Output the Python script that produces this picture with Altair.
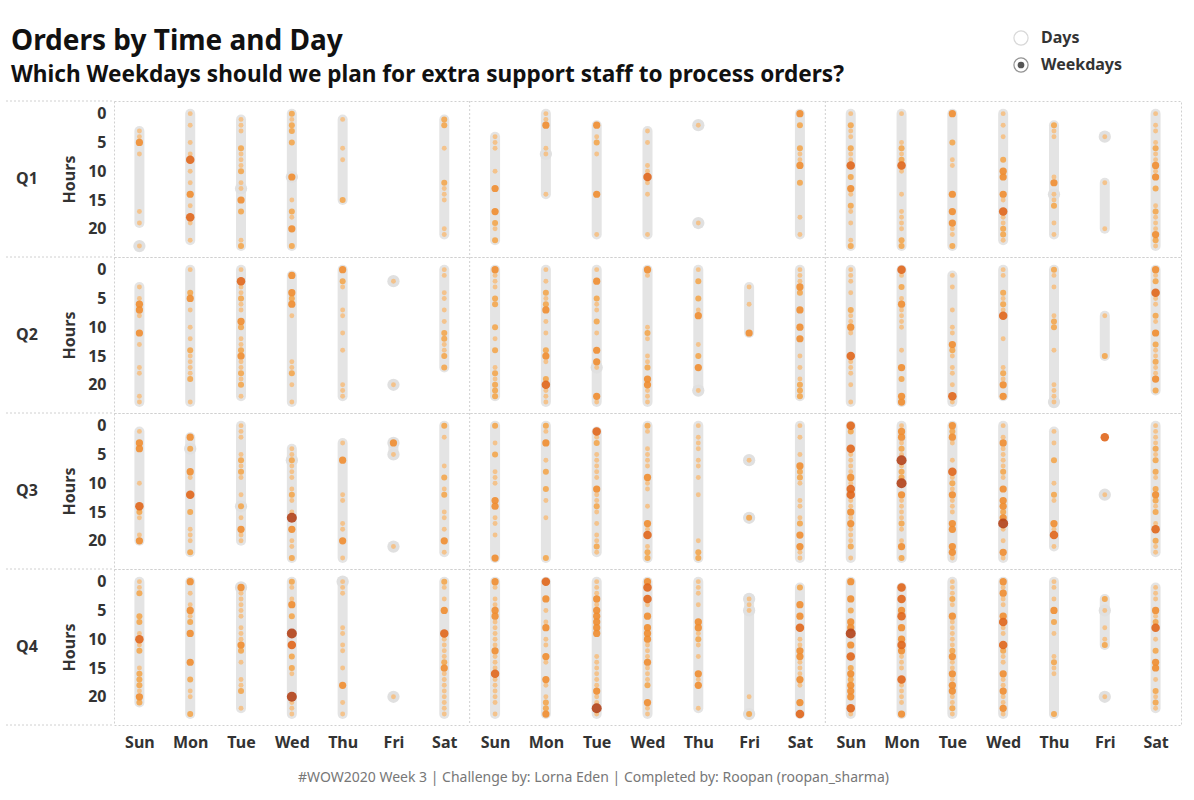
import json

import altair as alt
import pandas as pd

FONT = "Noto Sans"

DAYS = ["Sun", "Mon", "Tue", "Wed", "Thu", "Fri", "Sat"]
QUARTERS = ["Q1", "Q2", "Q3", "Q4"]
YEARS = ["2017", "2018", "2019"]

TITLE = "Orders by Time and Day"
SUBTITLE = "Which Weekdays should we plan for extra support staff to process orders?"
FOOTER = "#WOW2020 Week 3 | Challenge by: Lorna Eden | Completed by: Roopan (roopan_sharma)"
TOGGLE = ["Days", "Weekdays"]

# One string per weekday (Sun..Sat).  Tokens: "hour" or "hour:level"
# (order-count level 1..5); a trailing "g" puts a grey ring behind the dot;
# "=a-b" sets the grey hour span explicitly, a lone "=" means no span,
# otherwise the span runs from the first to the last hour with orders.
Q1_2017 = [
    "=3-19 3 4 5:3 7 17 19 23g",
    "0 2 5 7 8:4 10 12 14:3 16 18:4 19 22",
    "1 2 3 6:2 7 8 9 10:2 12 13g 15:3 17:2 22 23:2",
    "0:2 1 2:2 3:2 5:2 11:3g 15 17:2 18 20:3 23:2",
    "1 6 8 15:2",
    "",
    "1:2 2:2 6 12:2 13 14 15 20 21",
]
Q1_2018 = [
    "4 5 6 10 13:3 17:3 19:2 20 22:2",
    "0 1 2:3 6 7g 14",
    "2:3 4 5:2 7 14:3 21",
    "3 5 9 10 11:4 12 14 21",
    "= 2g 19g",
    "",
    "0:3 2:2 6:2 7 8 9:3 12:2 18 21",
]
Q1_2019 = [
    "0 2:2 3 4 6:2 7 8 9:4 11:2 13:3 14 16:2 17 19 22 23:2",
    "0 5 6:2 7 8:2 9:4 10 14 17 18 19 20 22:2 23:2",
    "0:3 5:2 8 9 14:3 17:3 19:3 20 21 23:2",
    "0 2 4 8:2 10:3 11:3 14:3 15 17:4 18 19 20:2 21:2 22",
    "2:2 3 4 11 12:3 14g 15 16:2 19 21",
    "=12-20 4g 12 20",
    "0 2 3 5 6:2 7 8 9:3 10 11:3 13:2 16 17:2 18 19 20 21:3 22:2 23",
]
Q2_2017 = [
    "3 5 6:3 7:3 8 11:3 13 17 18 22 23",
    "0 4:2 5:3 7 10 12 14:2 15 16 17 18 19:2 23",
    "0 2:4 3 4 5:2 6 7 9:3 10:2 12 13 14:2 15:3 16 17 18:2 19 20:2 22",
    "1:3 4:3 5:2 6:3 8 16 17 18:2 20 23",
    "0:3 2:2 3 7 8 11 14 20 21 22",
    "= 2g 20g",
    "0 1 4 5 7 9 11:2 12:2 13 14 15:2 17:2",
]
Q2_2018 = [
    "0:3 1 2 3 5:2 6:2 10:2 12 14:2 17 18:2 19 20:2 21:2 22:2",
    "0 2 4:2 5 6:2 7:3 9 11 14:2 15:3 16 19:2 20:4 21 22 23",
    "0 2:3 5:2 6 7 9:2 11 14:3 16:3 17g 22:3 23",
    "0:3 1 10 11:2 12 15 16 17:2 19:3 20:3 21 22 23",
    "0 2:2 5:2 7 8:3 13 15:2 17:3 21g",
    "3 6 11:3",
    "0 1 2 3:3 4:2 7:3 10:3 12:3 15 17 19 20:2 21:2 22:2",
]
Q2_2019 = [
    "0 1 2 4 7:2 8 9 10:3 11 15:4 16 17 18 20 23",
    "0:4 1 3:2 5 6:3 7 8 9 10 14 17:3 19:2 22:3 23:3",
    "1 3 7 10 11 13:3 14:2 15 17 18 20 22:4 23",
    "0 1 4:2 5 6:2 7 8:4 12 17 18:2 19 20:3 22:3",
    "0:2 1 3 8 9:2 10:2 14 20 21 22 23g",
    "8 15:2",
    "0:3 1 2:2 4:4 5 6 8:2 9 11:3 13:2 14 15 16:2 17 18 19:3 21:2",
]
Q3_2017 = [
    "1 3:3 4:3 10 14:4 15:2 16 19 20:3",
    "2:3 4:2g 8:3 9 12:4 15:2 18 19 20 22:2",
    "0 1 2 5 6:2 7 8:2 9 12 14:2g 16 18:3 19 20",
    "4 5 6:2g 7 8 9 11 12:2 13 15 16:5 18:3 20 21 23:2",
    "3 6:3 12 13 17 18 20:3 23",
    "=3-5 3:3g 5g 21g",
    "0:2 2 7 9:2 11 12:2 15 16 18 20:3 22",
]
Q3_2018 = [
    "0:2 3 5:2 8 9 10 13:3 14:3 16 17 19 23:3",
    "0:2 1 3:3 6 8:2 11:2 13 16 23:2",
    "1:4 2 3:2 5 6 7 8 9 11:3 12 13 14:2 15 17 19 20 21:2 22",
    "0:2 1 4 5 6 7 9:3 10 11 14 17:3 18 19:4 21 22:2 23:2",
    "0 2 3 4 6 7 9 12 20 22:2 23:2",
    "= 6g 16:2g",
    "0 2 5 7:3 8:2 9:2 10 13 14 16 17:2 19:3 21:3 22 23",
]
Q3_2019 = [
    "0:4 1:2 4:4 5 6 7 8 9:3 10 11:4 12:4 13 14 15:3 16 17:3 18 19 20 21:2 23",
    "0 1:3 2:3 3 4:2 5 6:5 7 8:2 9:2 10:5 12:3 13 14 15 16 17:2 18 20 21:3 23:2",
    "0:3 1:2 2:3 3 6 8:4 9 10:2 11 12:3 13 14 15 17:3 18:3 21:3 22:3 23",
    "0 2 3:3 4 5 6 7 8:2 9 11:3 13:3 14:3 15:2 16:3 17:5 18 20 22:3 23",
    "1 3 6:2 10 12:2 13 17:3 18 19:4 21",
    "= 2:4 12g",
    "0 1 2 3 4:2 5 6:2 8:2 9 11:2 12:3 13:2 14 15:2 17 18:4 20:2 21 22",
]
Q4_2017 = [
    "0 1 2:2 6:2 7:2 9 10:4 11 12:2 15 16:2 17:2 18:2 19 20:3 21:2",
    "0:3 2 4 5:3 6 7:2 9:3 14:3 17:2 19 20 23:2",
    "1:3g 2 3 4 5 6 8 9 10 11:3 12:2 14 17 18 19:2 22",
    "0:2 1 3 4:3 6:2 9:5 11:4 13:2 15:2 16 20:5 21 22 23",
    "0g 1 2 8 9 11 12 15 18:3 21 23",
    "= 20g",
    "0:2 1 3 5:3 9:4 10 11 12 13 14:2 15:3 16 17 18 19 20 21 22 23",
]
Q4_2018 = [
    "0:3 1 3 4 5:3 6:3 7 8 9 10 11 12:3 13 14 15 16:4 17 18 19 20 21 23",
    "0:4 3:3 5 7 8:3 10 11 13:3 14 17:3 18 20 21:2 22:2 23:3",
    "0 1 2 3:3 4 5:3 6:3 7:3 8:3 9:3 13 14 15 16 17 18 19:3 20 21 22:5 23",
    "0:3 1:4 3:4 4 6:3 8:3 9:3 10:3 11 12 13 14:3 15 16 17 18:2 21:3 22 23",
    "0 1 2 4 7:3 8:3 9 10:2 11 13 16:3 17 18:3 22",
    "=3-23 3g 4 5g 20 23:2g",
    "1:2 4:3 6:3 8:4 10 11 12:3 13:3 14 15 16 17:3 18 21:3 23:4",
]
Q4_2019 = [
    "0:3 3:3 5:2 7:3 8:3 9:5 11:3 13:4 15:2 16:3 17:2 18:3 19:3 20:3 22:4 23",
    "1:4 3:4 5:3 6:4 8:3 10:3 11:4 12:3 13 14 15 17:4 18 19 20 21 23:3",
    "0 1 2 3:2 4 6:3 7 8 9 10 11 12:2 13:3 14 15 16:3 17 18:3 19:3 20 21 22:2 23",
    "0:3 1 2:3 3 4 6:3 7:4 8 9 11:4 12:2 13 14 16:3 17 18 19:3 20 21 22:3 23",
    "0 1 3 5:3 7:2 9 13 14:2 15 16 23:2",
    "=3-11 3:2 5g 8 10 11:2 20g",
    "1 2 3 5:3 6 7:2 8:4 10 12:2 14:3 15:3 17 19:2 20 21:2 22",
]

GRID = {
    ("Q1", "2017"): Q1_2017, ("Q1", "2018"): Q1_2018, ("Q1", "2019"): Q1_2019,
    ("Q2", "2017"): Q2_2017, ("Q2", "2018"): Q2_2018, ("Q2", "2019"): Q2_2019,
    ("Q3", "2017"): Q3_2017, ("Q3", "2018"): Q3_2018, ("Q3", "2019"): Q3_2019,
    ("Q4", "2017"): Q4_2017, ("Q4", "2018"): Q4_2018, ("Q4", "2019"): Q4_2019,
}

# Styling for the order-count levels
LEVELS = [1, 2, 3, 4, 5]
LEVEL_COLORS = ["#f5bf82", "#f3a64e", "#ef8d30", "#e0661b", "#b3431a"]
LEVEL_SIZES = [24, 36, 52, 72, 100]

W, H = 1067, 156
LINE = "#d0d0d0"

rows = []
for (q, yr), week in GRID.items():
    col = YEARS.index(yr)
    for d, spec in enumerate(week):
        xpos = col * 7 + d
        pts, spans, explicit = [], [], False
        for tok in spec.split():
            if tok.startswith("="):
                explicit = True
                if len(tok) > 1:
                    a, b = tok[1:].split("-")
                    spans.append((int(a), int(b)))
                continue
            ring = tok.endswith("g")
            h, _, lv = tok.rstrip("g").partition(":")
            pts.append((int(h), int(lv) if lv else 1, ring))
        if not explicit and len(pts) > 1:
            hs = [p[0] for p in pts]
            spans.append((min(hs), max(hs)))
        for a, b in spans:
            rows.append(dict(kind="span", quarter=q, x=xpos, hour=a, hour2=b))
        for h, lv, ring in pts:
            if ring:
                rows.append(dict(kind="ring", quarter=q, x=xpos, hour=h))
            rows.append(dict(kind="dot", quarter=q, x=xpos, hour=h, level=lv))

for q in QUARTERS:
    for k in range(1, len(YEARS)):
        rows.append(dict(kind="sep", quarter=q, x=k * len(DAYS) - 0.5))
    rows.append(dict(kind="hline", quarter=q))

rows.append(dict(kind="title", quarter="Q1", label=TITLE))
rows.append(dict(kind="subtitle", quarter="Q1", label=SUBTITLE))
rows.append(dict(kind="toggle0", quarter="Q1", label=TOGGLE[0]))
rows.append(dict(kind="toggle1", quarter="Q1", label=TOGGLE[1]))

df = pd.DataFrame(rows)

day_expr = json.dumps(DAYS) + "[datum.value % 7]"

x_enc = alt.X(
    "x:Q",
    scale=alt.Scale(domain=[-0.5, len(YEARS) * 7 - 0.5], nice=False, zero=False),
    axis=alt.Axis(
        values=list(range(len(YEARS) * 7)), labelExpr=day_expr,
        ticks=False, domain=False, grid=False, labelFlush=False, labelOverlap=False,
        labelFont=FONT, labelFontSize=16, labelFontWeight="bold", labelColor="#333",
        labelPadding=9,
        title=FOOTER, titleFont=FONT, titleFontSize=14, titleFontWeight="normal",
        titleColor="#777", titlePadding=20, titleX=479, titleAlign="center",
    ),
)
y_enc = alt.Y(
    "hour:Q",
    scale=alt.Scale(domain=[-2.2, 24.9], reverse=True, nice=False, zero=False),
    axis=alt.Axis(
        values=[0, 5, 10, 15, 20], ticks=False, domain=False, grid=False,
        labelFlush=False, labelOverlap=False,
        labelFont=FONT, labelFontSize=16, labelFontWeight="bold", labelColor="#333",
        labelPadding=8,
        title="Hours", titleFont=FONT, titleFontSize=16, titleFontWeight="bold",
        titleColor="#333", titlePadding=10,
    ),
)

base = alt.Chart()

seps = base.mark_rule(color=LINE, strokeDash=[2, 2], strokeWidth=1).encode(
    x=x_enc
).transform_filter(alt.datum.kind == "sep")

hline = base.mark_rule(color=LINE, strokeDash=[2, 2], strokeWidth=1).encode(
    x=alt.value(-108), x2=alt.value(0), y=alt.value(0)
).transform_filter(alt.datum.kind == "hline")

hline_bottom = base.mark_rule(color=LINE, strokeDash=[2, 2], strokeWidth=1).encode(
    x=alt.value(-108), x2=alt.value(0), y=alt.value(H)
).transform_filter((alt.datum.kind == "hline") & (alt.datum.quarter == "Q4"))

spans = base.mark_rule(strokeWidth=10, strokeCap="round", color="#e4e4e4").encode(
    x=x_enc, y=y_enc, y2="hour2:Q"
).transform_filter(alt.datum.kind == "span")

rings = base.mark_circle(size=150, color="#e0e0e0", opacity=1).encode(
    x=x_enc, y=y_enc
).transform_filter(alt.datum.kind == "ring")

# piecewise-linear size scale, one stop per level
dots = base.mark_circle(opacity=0.9).encode(
    x=x_enc,
    y=y_enc,
    color=alt.Color("level:O", scale=alt.Scale(domain=LEVELS, range=LEVEL_COLORS), legend=None),
    size=alt.Size("level:Q", scale=alt.Scale(type="linear", domain=LEVELS, range=LEVEL_SIZES), legend=None),
    order=alt.Order("level:Q"),
).transform_filter(alt.datum.kind == "dot")

title = base.mark_text(
    align="left", baseline="alphabetic", font=FONT, fontSize=28, fontWeight="bold", color="#111"
).encode(x=alt.value(-103), y=alt.value(-51), text="label:N").transform_filter(
    alt.datum.kind == "title"
)
subtitle = base.mark_text(
    align="left", baseline="alphabetic", font=FONT, fontSize=22.6, fontWeight="bold", color="#111"
).encode(x=alt.value(-103), y=alt.value(-19), text="label:N").transform_filter(
    alt.datum.kind == "subtitle"
)

ring0 = base.mark_point(shape="circle", filled=False, size=200, color="#c8c8c8", strokeWidth=1.2).encode(
    x=alt.value(907), y=alt.value(-63)
).transform_filter(alt.datum.kind == "toggle0")
ring1 = base.mark_point(shape="circle", filled=False, size=200, color="#666", strokeWidth=1.2).encode(
    x=alt.value(907), y=alt.value(-36)
).transform_filter(alt.datum.kind == "toggle1")
pip1 = base.mark_circle(size=45, color="#555", opacity=1).encode(
    x=alt.value(907), y=alt.value(-36)
).transform_filter(alt.datum.kind == "toggle1")
label0 = base.mark_text(
    align="left", baseline="middle", font=FONT, fontSize=16, fontWeight="bold", color="#333"
).encode(x=alt.value(927), y=alt.value(-63), text="label:N").transform_filter(
    alt.datum.kind == "toggle0"
)
label1 = base.mark_text(
    align="left", baseline="middle", font=FONT, fontSize=16, fontWeight="bold", color="#333"
).encode(x=alt.value(927), y=alt.value(-36), text="label:N").transform_filter(
    alt.datum.kind == "toggle1"
)

cell = alt.layer(
    seps, hline, hline_bottom, spans, rings, dots,
    title, subtitle, ring0, ring1, pip1, label0, label1,
    data=df,
).properties(width=W, height=H)

chart = cell.facet(
    row=alt.Row(
        "quarter:N",
        sort=QUARTERS,
        header=alt.Header(
            title=None, labelAngle=0, labelAlign="right", labelBaseline="middle",
            labelFont=FONT, labelFontSize=16, labelFontWeight="bold", labelColor="#333",
            labelPadding=2, labelOrient="left",
        ),
    ),
    spacing=0,
    bounds="flush",
).configure_view(
    stroke=LINE, strokeDash=[2, 2], strokeWidth=1
).properties(
    padding={"left": 5, "top": 27, "right": 5, "bottom": 5},
    background="white",
)

chart.save("out.html", embed_options={"renderer": "svg", "actions": False})
